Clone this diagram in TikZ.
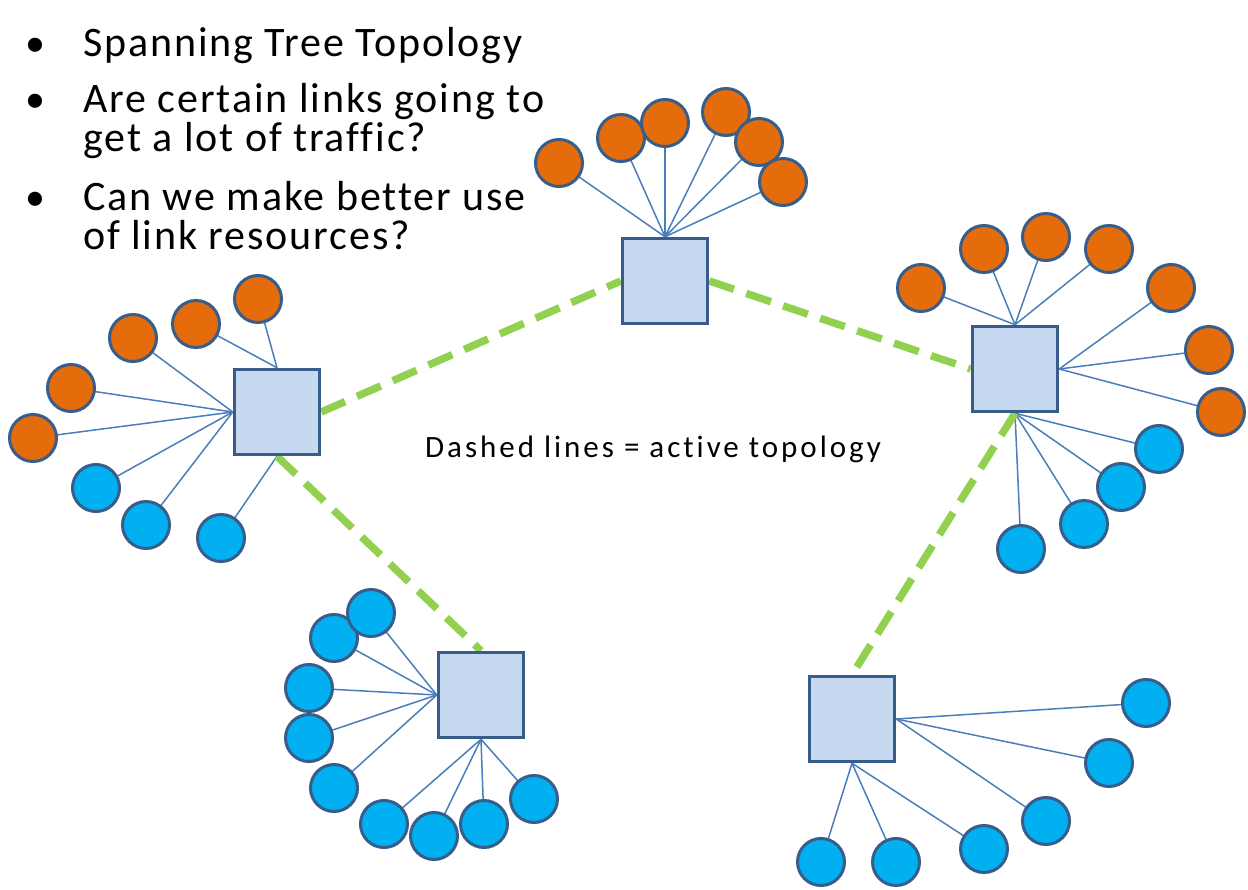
\documentclass[tikz,border=0pt]{standalone}
\usepackage{fontspec}
\setmainfont{Carlito}[Ligatures=CommonOff]
\newfontfamily\mainletters{Carlito}[Ligatures=CommonOff,LetterSpace=4.5]
\newfontfamily\lblletters{Carlito}[Ligatures=CommonOff,LetterSpace=9.6]
\definecolor{orng}{HTML}{E46C0A}
\definecolor{cyanb}{HTML}{00B0F0}
\definecolor{edgec}{HTML}{385D8A}
\definecolor{sqfill}{HTML}{C6D9F1}
\definecolor{linkc}{HTML}{4A7EBB}
\definecolor{grn}{HTML}{92D050}
\pgfdeclarelayer{bg}
\pgfsetlayers{bg,main}
\tikzset{
  sw/.style={rectangle, draw=edgec, fill=sqfill, line width=3.5pt, minimum size=85pt, inner sep=0pt},
  oh/.style={circle, draw=edgec, fill=orng, line width=3pt, minimum size=47pt, inner sep=0pt},
  bh/.style={oh, fill=cyanb},
  link/.style={draw=linkc, line width=1.5pt},
  activelink/.style={draw=grn, line width=7.5pt, dash pattern=on 26pt off 13pt},
  bigtxt/.style={anchor=base west, inner sep=0pt, font=\mainletters\fontsize{42}{50}\selectfont},
  bul/.style={anchor=base, inner sep=0pt, font=\fontsize{40}{48}\selectfont},
  midtxt/.style={anchor=base west, inner sep=0pt, font=\lblletters\fontsize{31}{37}\selectfont}
}
\begin{document}
\begin{tikzpicture}[x=1pt,y=-1pt]
\useasboundingbox (0,0) rectangle (1248,890);
% text
\node[bul] (u1) at (35,57) {•};
\node[bigtxt] (t1) at (83,57) {Spanning Tree Topology};
\node[bul] (u2) at (35,113) {•};
\node[bigtxt] (t2) at (83,113) {Are certain links going to};
\node[bigtxt] (t3) at (83,152) {get a lot of traffic?};
\node[bul] (u3) at (35,211) {•};
\node[bigtxt] (t4) at (83,211) {Can we make better use};
\node[bigtxt] (t5) at (83,250) {of link resources?};
\node[midtxt] (lbl) at (425,457) {Dashed lines = active topology};
% switches
\node[sw] (T) at (665,281) {};
\node[sw] (L) at (277,412) {};
\node[sw] (R) at (1015,369) {};
\node[sw] (BL) at (481,695) {};
\node[sw] (BR) at (852,719) {};
% top hosts
\node[oh] (tc1) at (559,163) {};
\node[oh] (tc2) at (621,138) {};
\node[oh] (tc3) at (665,123) {};
\node[oh] (tc4) at (726,112) {};
\node[oh] (tc5) at (759,142) {};
\node[oh] (tc6) at (783,182) {};
% left hosts
\node[oh] (lo1) at (258,299) {};
\node[oh] (lo2) at (196,324) {};
\node[oh] (lo3) at (133,338) {};
\node[oh] (lo4) at (71,388) {};
\node[oh] (lo5) at (33,438) {};
\node[bh] (lb1) at (96,488) {};
\node[bh] (lb2) at (146,525) {};
\node[bh] (lb3) at (221,538) {};
% right hosts
\node[oh] (ro1) at (921,288) {};
\node[oh] (ro2) at (984,249) {};
\node[oh] (ro3) at (1046,237) {};
\node[oh] (ro4) at (1109,249) {};
\node[oh] (ro5) at (1171,288) {};
\node[oh] (ro6) at (1209,350) {};
\node[oh] (ro7) at (1221,412) {};
\node[bh] (rb1) at (1159,449) {};
\node[bh] (rb2) at (1121,487) {};
\node[bh] (rb3) at (1084,524) {};
\node[bh] (rb4) at (1021,549) {};
% bottom-left hosts
\node[bh] (a2) at (334,638) {};
\node[bh] (a1) at (371,613) {};
\node[bh] (a3) at (309,688) {};
\node[bh] (a4) at (309,738) {};
\node[bh] (a5) at (334,788) {};
\node[bh] (a6) at (384,824) {};
\node[bh] (a7) at (434,836) {};
\node[bh] (a8) at (484,824) {};
\node[bh] (a9) at (534,799) {};
% bottom-right hosts
\node[bh] (d1) at (1146,703) {};
\node[bh] (d2) at (1109,763) {};
\node[bh] (d3) at (1046,821) {};
\node[bh] (d4) at (984,849) {};
\node[bh] (d5) at (896,862) {};
\node[bh] (d6) at (821,862) {};
\begin{pgfonlayer}{bg}
\foreach \h in {tc1,tc2,tc3,tc4,tc5,tc6} \draw[link] (T.north) -- (\h.center);
\foreach \h in {lo1,lo2} \draw[link] (L.north) -- (\h.center);
\foreach \h in {lo3,lo4,lo5,lb1,lb2} \draw[link] (L.west) -- (\h.center);
\draw[link] (L.south) -- (lb3.center);
\foreach \h in {ro1,ro2,ro3,ro4} \draw[link] (R.north) -- (\h.center);
\foreach \h in {ro5,ro6,ro7} \draw[link] (R.east) -- (\h.center);
\foreach \h in {rb1,rb2,rb3,rb4} \draw[link] (R.south) -- (\h.center);
\foreach \h in {a1,a2,a3,a4,a5} \draw[link] (BL.west) -- (\h.center);
\foreach \h in {a6,a7,a8,a9} \draw[link] (BL.south) -- (\h.center);
\foreach \h in {d1,d2,d3} \draw[link] (BR.east) -- (\h.center);
\foreach \h in {d4,d5,d6} \draw[link] (BR.south) -- (\h.center);
\draw[activelink] (L.east) -- (T.west);
\draw[activelink] (T.east) -- (R.west);
\draw[activelink] (L.south) -- (BL.north);
\draw[activelink] (R.south) -- (BR.north);
\end{pgfonlayer}
\end{tikzpicture}
\end{document}
